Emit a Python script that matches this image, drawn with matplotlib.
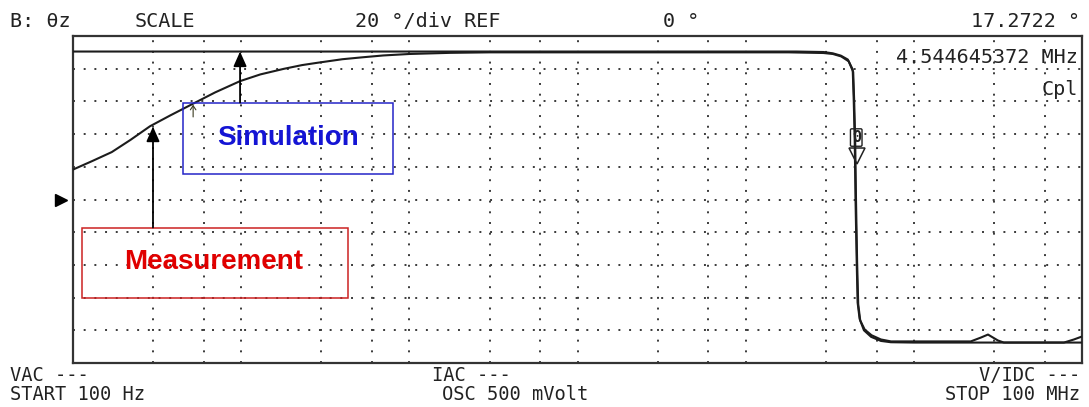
import matplotlib
matplotlib.use("Agg")
import matplotlib.pyplot as plt
from matplotlib.patches import Rectangle

# ---------------- data ----------------
# Simulation trace: frequency (Hz) and phase (deg)
sim_freq = [100, 1e3, 1e4, 1e5, 1e6, 2.0e6, 2.91e6, 3.3e6, 3.68e6, 4.05e6, 4.33e6,
            4.39e6, 4.45e6, 4.50e6, 4.57e6, 4.63e6, 4.76e6, 5.05e6, 5.57e6,
            6.37e6, 7.3e6, 1e7, 3e7, 1e8]
sim_phase = [90.5, 90.5, 90.5, 90.5, 90.5, 90.5, 90.2, 89.4, 88.0, 85.6, 79.5,
             61.0, 36.7, 0.0, -36.7, -63.0, -73.0, -80.0, -84.0,
             -86.5, -87.3, -87.5, -87.5, -87.5]

# Measurement trace
meas_freq = [100, 130, 170, 220, 287, 380, 520, 700, 985, 1.3e3, 1.79e3,
             2.3e3, 2.83e3, 4.0e3, 5.3e3, 7.0e3, 10e3, 17.5e3, 30e3, 1e5,
             1e6, 1.8e6, 2.9e6, 3.3e6, 3.7e6, 4.1e6, 4.36e6, 4.42e6, 4.48e6,
             4.53e6, 4.6e6, 4.67e6, 4.8e6, 5.1e6, 5.6e6, 6.37e6, 7.32e6,
             10e6, 21.8e6, 25.1e6, 27.6e6, 31.6e6, 34.3e6, 78.1e6, 89.6e6,
             100e6]
meas_phase = [18.3, 23.5, 29.0, 36.5, 44.8, 51.5, 58.7, 65.5, 72.4, 76.5, 79.9,
              82.2, 83.6, 85.8, 87.0, 88.1, 89.0, 89.7, 90.0, 90.0,
              90.0, 90.0, 89.6, 89.0, 87.5, 84.5, 78.0, 60.0, 36.0,
              0.0, -38.0, -64.0, -74.0, -79.5, -83.0, -85.6, -86.8,
              -86.8, -86.8, -84.4, -82.6, -86.2, -87.5, -87.5, -85.6,
              -83.8]

# grid positions
vgrid_freqs = [3e2, 6e2, 1e3, 3e3, 6e3, 1e4, 3e4, 6e4, 1e5, 3e5, 6e5, 1e6,
               3e6, 6e6, 1e7, 3e7, 6e7]
hgrid_phases = [-80, -60, -40, -20, 0, 20, 40, 60, 80]

# annotation anchor values
sim_arrow_freq = 985
meas_arrow_freq = 299
small_arrow_freq = 518
marker_freq = 4.5446e6
marker_phase = 37.9
marker_tri_phase = 26.3

# texts
header = [("B: θz", 10, "left"), ("SCALE", 135, "left"),
          ("20 °/div REF", 428, "center"), ("0 °", 681, "center"),
          ("17.2722 °", 1080, "right")]
footer_top = [("VAC ---", 10, "left"), ("IAC ---", 432, "left"),
              ("V/IDC ---", 1080, "right")]
footer_bot = [("START 100 Hz", 10, "left"), ("OSC 500 mVolt", 442, "left"),
              ("STOP 100 MHz", 1080, "right")]

# ---------------- figure ----------------
W, H = 1089, 407
fig = plt.figure(figsize=(W / 100, H / 100), dpi=100)
ax_l, ax_r, ax_t, ax_b = 73, 1082, 36, 363
ax = fig.add_axes([ax_l / W, (H - ax_b) / H, (ax_r - ax_l) / W, (ax_b - ax_t) / H])
ax.set_xscale("log")
ax.set_xlim(100, 1e8)
ax.set_ylim(-100, 100)
ax.set_xticks([])
ax.set_yticks([])
ax.xaxis.set_minor_locator(matplotlib.ticker.NullLocator())
for s in ax.spines.values():
    s.set_linewidth(1.6)
    s.set_color("#333333")

gridc = "#3a3a3a"
for f in vgrid_freqs:
    ax.axvline(f, color=gridc, lw=1.4, ls=(0, (1, 4.5)), zorder=1)
for p in hgrid_phases:
    ax.axhline(p, color=gridc, lw=1.4, ls=(0, (1, 4.5)), zorder=1)

trace_c = "#1c1c1c"
ax.plot(sim_freq, sim_phase, color=trace_c, lw=1.5, zorder=4)
ax.plot(meas_freq, meas_phase, color=trace_c, lw=1.5, zorder=4)

# reference marker on the left
ax.plot([-0.012], [0.5], marker=">", color="black", markersize=9,
        transform=ax.transAxes, clip_on=False)

# trace marker
ax.text(marker_freq, marker_phase, "0", fontsize=11, family="DejaVu Sans Mono",
        fontweight="bold", ha="center", va="center", color="#222222", zorder=6,
        bbox=dict(boxstyle="round,pad=0.08", fc="none", ec="#222222", lw=1.0))
ax.plot([marker_freq * 1.01], [marker_tri_phase], marker="v", markersize=11,
        mfc="none", mec="#222222", mew=1.1, zorder=6)

# annotation boxes
def axfrac(px, py):
    return ((px - ax_l) / (ax_r - ax_l), (ax_b - py) / (ax_b - ax_t))

sx0, sy0 = axfrac(183, 174)
sx1, sy1 = axfrac(393, 103)
ax.add_patch(Rectangle((sx0, sy0), sx1 - sx0, sy1 - sy0, transform=ax.transAxes,
                       fill=False, ec="#2424c8", lw=1.1, zorder=5))
tx, ty = axfrac(288, 138)
ax.text(tx, ty, "Simulation", transform=ax.transAxes, ha="center", va="center",
        fontsize=20, fontweight="bold", family="Liberation Sans",
        color="#1414d4", zorder=7)

mx0, my0 = axfrac(82, 298)
mx1, my1 = axfrac(348, 228)
ax.add_patch(Rectangle((mx0, my0), mx1 - mx0, my1 - my0, transform=ax.transAxes,
                       fill=False, ec="#cc2222", lw=1.1, zorder=5))
tx, ty = axfrac(214, 262)
ax.text(tx, ty, "Measurement", transform=ax.transAxes, ha="center", va="center",
        fontsize=20, fontweight="bold", family="Liberation Sans",
        color="#e00000", zorder=7)

# arrows
sim_box_top = (200 - 103) / 1.635
meas_box_top = (200 - 228) / 1.635
ax.annotate("", xy=(sim_arrow_freq, sim_phase[0]), xytext=(sim_arrow_freq, sim_box_top),
            arrowprops=dict(arrowstyle="-|>,head_length=0.9,head_width=0.4",
                            color="black", lw=1.3, shrinkA=0, shrinkB=0), zorder=8)
ax.annotate("", xy=(meas_arrow_freq, 44.6), xytext=(meas_arrow_freq, meas_box_top),
            arrowprops=dict(arrowstyle="-|>,head_length=0.9,head_width=0.4",
                            color="black", lw=1.3, shrinkA=0, shrinkB=0), zorder=8)
ax.annotate("", xy=(small_arrow_freq, 58.0), xytext=(small_arrow_freq, 50.5),
            arrowprops=dict(arrowstyle="->,head_length=0.3,head_width=0.2",
                            color="#3a3a20", lw=0.8, shrinkA=0, shrinkB=0), zorder=8)

# in-plot readouts
ax.text(1 - 4 / (ax_r - ax_l), 1 - 27 / (ax_b - ax_t), "4.544645372 MHz",
        transform=ax.transAxes, ha="right", va="baseline", fontsize=14.5,
        family="DejaVu Sans Mono", color="#222222", zorder=7)
ax.text(1 - 4 / (ax_r - ax_l), 1 - 59 / (ax_b - ax_t), "Cpl",
        transform=ax.transAxes, ha="right", va="baseline", fontsize=14.5,
        family="DejaVu Sans Mono", color="#222222", zorder=7)

# header / footer
for txt, x, ha in header:
    fig.text(x / W, 1 - 27 / H, txt, ha=ha, va="baseline", fontsize=14.5,
             family="DejaVu Sans Mono", color="#222222")
for txt, x, ha in footer_top:
    fig.text(x / W, 1 - 381 / H, txt, ha=ha, va="baseline", fontsize=13.5,
             family="DejaVu Sans Mono", color="#222222")
for txt, x, ha in footer_bot:
    fig.text(x / W, 1 - 400 / H, txt, ha=ha, va="baseline", fontsize=13.5,
             family="DejaVu Sans Mono", color="#222222")

fig.savefig("out.png", dpi=100, facecolor="white")
